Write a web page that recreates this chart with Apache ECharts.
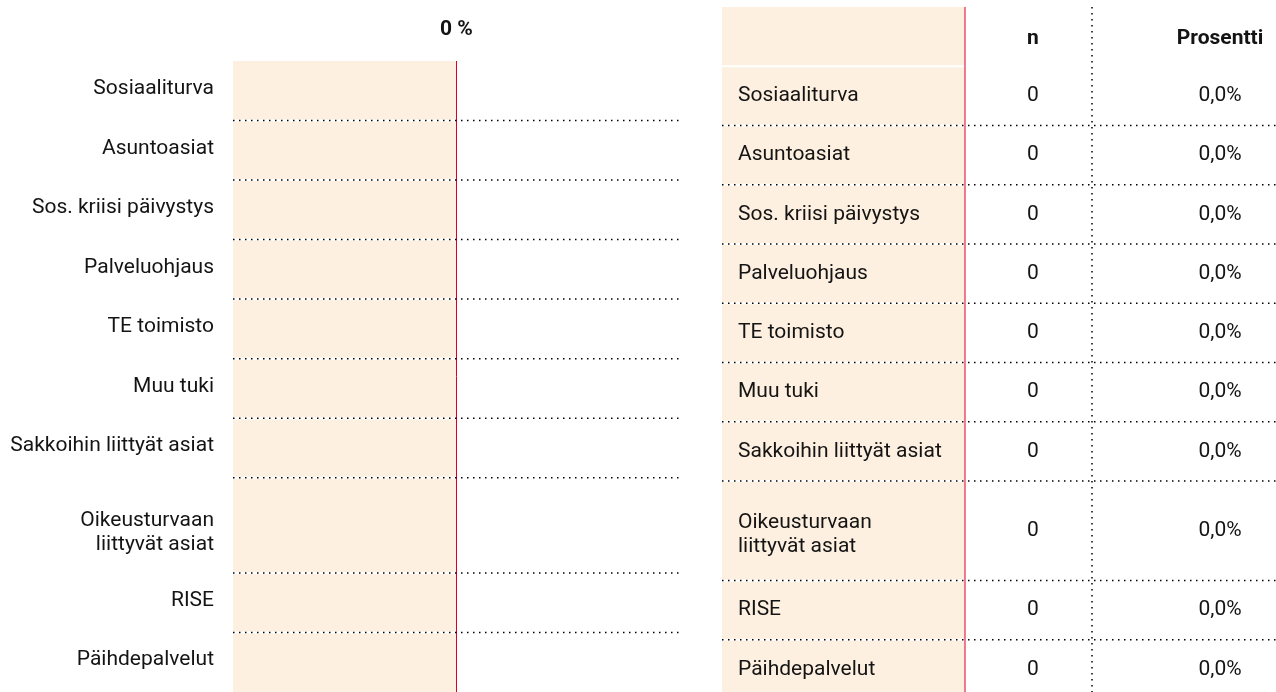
<!DOCTYPE html>
<html>
<head>
<meta charset="utf-8">
<script src="https://cdn.jsdelivr.net/npm/echarts@6/dist/echarts.min.js"></script>
<style>
html,body{margin:0;padding:0;background:#fff;}
#chart{width:1276px;height:692px;}
</style>
</head>
<body>
<div id="chart"></div>
<script>
// ---- data ----
const categories = [
  'Sosiaaliturva',
  'Asuntoasiat',
  'Sos. kriisi päivystys',
  'Palveluohjaus',
  'TE toimisto',
  'Muu tuki',
  'Sakkoihin liittyät asiat',
  'Oikeusturvaan\nliittyvät asiat',
  'RISE',
  'Päihdepalvelut'
];
const barValues = [0, 0, 0, 0, 0, 0, 0, 0, 0, 0];      // % shown as bars
const countValues = [0, 0, 0, 0, 0, 0, 0, 0, 0, 0];    // table column n
const percentValues = [0, 0, 0, 0, 0, 0, 0, 0, 0, 0];  // table column Prosentti
const xTickValues = [0];
const tableHeaders = ['n', 'Prosentti'];

// ---- style / layout ----
const FONT = 'Roboto, "Noto Sans", sans-serif';
const FS = 21;
const LH = 24;
const TEXT = '#141414';
const BEIGE = '#fdf0e0';
const RED = '#d9002a';
const DOT = '#000';
const DASH = [1.5, 4.5];
const EXTRA_LINE_LEFT = 0.6;
const EXTRA_LINE_RIGHT = 0.68;
const MULTI_SHIFT_LEFT = 9;
const MULTI_SHIFT_RIGHT = 4;
const HEADER_WEIGHT = 1.0;
const COL_EDGES = [0, 243 / 554, 370 / 554, 1];
const N_ANCHOR = 311 / 554;
const PCT_ANCHOR = 498 / 554;

const fmtPct = v => v.toFixed(1).replace('.', ',') + '%';
const lines = s => s.split('\n').length;

const wL = categories.map(c => 1 + (lines(c) - 1) * EXTRA_LINE_LEFT);
const sL = [];
wL.reduce((acc, w, i) => { sL[i] = acc; return acc + w; }, 0);
const totalL = wL.reduce((a, b) => a + b, 0);

const wR = [HEADER_WEIGHT].concat(categories.map(c => 1 + (lines(c) - 1) * EXTRA_LINE_RIGHT));
const sR = [];
wR.reduce((acc, w, i) => { sR[i] = acc; return acc + w; }, 0);
const totalR = wR.reduce((a, b) => a + b, 0);

function dotted(x1, y1, x2, y2) {
  return { type: 'line', z2: 5, shape: { x1, y1, x2, y2 },
    style: { stroke: DOT, lineWidth: 1.5, lineDash: DASH, lineCap: 'butt' } };
}
function txt(text, x, y, align, bold) {
  return { type: 'text', z2: 10, style: {
    text, x, y, align, verticalAlign: 'middle',
    fontFamily: FONT, fontSize: FS, fontWeight: bold ? 'bold' : 'normal',
    lineHeight: LH, fill: TEXT } };
}

function renderLeft(params, api) {
  const i = api.value(0);
  const y0 = sL[i], y1 = sL[i] + wL[i];
  const tl = api.coord([-1, y0]);
  const br = api.coord([0, y1]);
  const right = api.coord([1, y1]);
  const children = [];
  children.push({ type: 'rect', z2: 1, shape: { x: tl[0], y: tl[1], width: br[0] - tl[0], height: br[1] - tl[1] }, style: { fill: BEIGE } });
  const b0 = api.coord([0, y0 + 0.25]);
  const b1 = api.coord([api.value(1), y1 - 0.25]);
  children.push({ type: 'rect', z2: 2, shape: { x: Math.min(b0[0], b1[0]), y: b0[1], width: Math.abs(b1[0] - b0[0]), height: b1[1] - b0[1] }, style: { fill: RED } });
  if (i === 0) {
    const a = api.coord([0, 0]), b = api.coord([0, totalL]);
    children.push({ type: 'line', z2: 4, shape: { x1: a[0], y1: a[1], x2: b[0], y2: b[1] }, style: { stroke: RED, lineWidth: 1 } });
  }
  if (i < categories.length - 1) {
    children.push({ type: 'line', z2: 3, shape: { x1: tl[0], y1: br[1], x2: br[0], y2: br[1] }, style: { stroke: '#fff', lineWidth: 2 } });
    children.push(dotted(tl[0], br[1], right[0], br[1]));
  }
  const shift = (lines(categories[i]) - 1) * MULTI_SHIFT_LEFT;
  children.push(txt(categories[i], tl[0] - 19, (tl[1] + br[1]) / 2 - 2 + shift, 'right', false));
  return { type: 'group', children };
}

function renderRight(params, api) {
  const k = api.value(0); // 0 = header, k>0 rows
  const y0 = sR[k], y1 = sR[k] + wR[k];
  const tl = api.coord([COL_EDGES[0], y0]);
  const br = api.coord([COL_EDGES[1], y1]);
  const far = api.coord([COL_EDGES[3], y1]);
  const mid = (tl[1] + br[1]) / 2;
  const nx = api.coord([N_ANCHOR, y0])[0];
  const px = api.coord([PCT_ANCHOR, y0])[0];
  const children = [];
  children.push({ type: 'rect', z2: 1, shape: { x: tl[0], y: tl[1], width: br[0] - tl[0], height: br[1] - tl[1] }, style: { fill: BEIGE } });
  children.push({ type: 'line', z2: 3, shape: { x1: tl[0], y1: br[1], x2: br[0], y2: br[1] }, style: { stroke: '#fff', lineWidth: 2 } });
  if (k === 0) {
    const r0 = api.coord([COL_EDGES[1], 0]), r1 = api.coord([COL_EDGES[1], totalR]);
    children.push({ type: 'line', z2: 4, shape: { x1: r0[0], y1: r0[1], x2: r1[0], y2: r1[1] }, style: { stroke: RED, lineWidth: 1 } });
    const d0 = api.coord([COL_EDGES[2], 0]), d1 = api.coord([COL_EDGES[2], totalR]);
    children.push(dotted(d0[0], d0[1], d1[0], d1[1]));
    children.push(txt(tableHeaders[0], nx, mid + 2, 'center', true));
    children.push(txt(tableHeaders[1], px, mid + 2, 'center', true));
  } else {
    const i = k - 1;
    if (k < wR.length - 1) children.push(dotted(tl[0], br[1], far[0], br[1]));
    const shift = (lines(categories[i]) - 1) * MULTI_SHIFT_RIGHT;
    children.push(txt(categories[i], tl[0] + 16, mid + shift, 'left', false));
    children.push(txt(String(countValues[i]), nx, mid, 'center', false));
    children.push(txt(fmtPct(percentValues[i]), px, mid, 'center', false));
  }
  return { type: 'group', children };
}

const chart = echarts.init(document.getElementById('chart'), null, { renderer: 'canvas' });
chart.setOption({
  backgroundColor: '#fff',
  animation: false,
  grid: [
    { left: 233, top: 61, width: 447, height: 631, containLabel: false, outerBoundsMode: 'none' },
    { left: 722, top: 7, right: 0, height: 692, containLabel: false, outerBoundsMode: 'none' }
  ],
  xAxis: [
    { gridIndex: 0, type: 'value', min: -1, max: 1, interval: 1, position: 'top',
      axisLine: { show: false }, axisTick: { show: false }, splitLine: { show: false },
      axisLabel: { margin: 21, fontFamily: FONT, fontSize: FS, fontWeight: 'bold', color: TEXT,
        showMinLabel: true, showMaxLabel: true,
        formatter: v => xTickValues.indexOf(v) >= 0 ? v + ' %' : '' } },
    { gridIndex: 1, type: 'value', min: 0, max: 1, show: false }
  ],
  yAxis: [
    { gridIndex: 0, type: 'value', min: 0, max: totalL, inverse: true, show: false },
    { gridIndex: 1, type: 'value', min: 0, max: totalR, inverse: true, show: false }
  ],
  series: [
    { type: 'custom', xAxisIndex: 0, yAxisIndex: 0, renderItem: renderLeft, clip: false,
      encode: { x: 1, y: 0 },
      data: categories.map((c, i) => [i, barValues[i], c]) },
    { type: 'custom', xAxisIndex: 1, yAxisIndex: 1, renderItem: renderRight, clip: false,
      encode: { y: 0 },
      data: wR.map((w, k) => [k]) }
  ]
});
</script>
</body>
</html>
